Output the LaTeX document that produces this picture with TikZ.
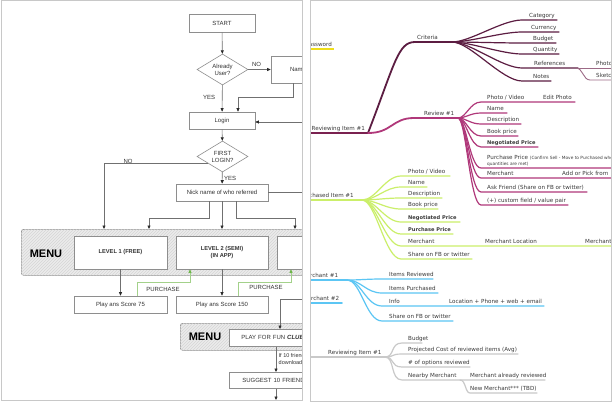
\documentclass[tikz,border=0pt]{standalone}
\usepackage{fontspec}
\setmainfont{Liberation Sans}
\newfontfamily\mmfont{DejaVu Sans}
\usetikzlibrary{arrows.meta,shapes.geometric,patterns,calc}
\definecolor{panelc}{HTML}{C8C8C8}
\definecolor{boxc}{HTML}{8E8E8E}
\definecolor{linec}{HTML}{707070}
\definecolor{tipc}{HTML}{2A2A2A}
\definecolor{txtc}{HTML}{333333}
\definecolor{hatchbg}{HTML}{EBEBEB}
\definecolor{hatchln}{HTML}{D6D6D6}
\definecolor{grn}{HTML}{A3D18A}
\definecolor{grntip}{HTML}{6DB54A}
\definecolor{ric}{HTML}{7A2150}
\definecolor{critc}{HTML}{5C1D42}
\definecolor{refc}{HTML}{9C6A86}
\definecolor{revc}{HTML}{B0387A}
\definecolor{purc}{HTML}{CBEF6A}
\definecolor{merc}{HTML}{5CC6F4}
\definecolor{grayb}{HTML}{C9C9C9}
\definecolor{pwc}{HTML}{EEDD1A}
\definecolor{mmtxt}{HTML}{3A3A3A}
\newcommand\mmbold{\bfseries\fontsize{5.1}{6}\selectfont}
\newcommand\mmchild[8]{%
  \draw[#1] (#2) .. controls +(\cA,0) and +(-\cB,0) .. (#3,#4) -- (#5,#4);
  \node[mm] (#6) at (#7,#4-2.2) {#8};}
\begin{document}
\begin{tikzpicture}[x=1pt,y=-1pt,
  fbox/.style={draw=boxc, fill=white, line width=0.6pt, inner sep=0pt, font=\fontsize{6}{7}\selectfont, text=txtc, align=center},
  dia/.style={fbox, shape=diamond, shape aspect=1.65, minimum width=51pt, minimum height=31pt},
  conn/.style={draw=linec, line width=0.6pt, -{Triangle[length=3.5pt,width=3pt,color=tipc]}},
  pline/.style={draw=linec, line width=0.6pt},
  gconn/.style={draw=grn, line width=0.8pt, -{Triangle[length=3.5pt,width=3pt,color=grntip]}},
  lbl/.style={font=\fontsize{6}{7}\selectfont, text=txtc, inner sep=0pt},
  lvl/.style={fbox, minimum width=92pt, minimum height=33pt, font=\bfseries\fontsize{5.7}{7.5}\selectfont},
  menucont/.style={draw=boxc, rounded corners=2.5pt, line width=0.6pt, fill=hatchbg, postaction={pattern=north east lines, pattern color=hatchln}},
  menutxt/.style={font=\fontsize{11}{12}\selectfont\bfseries, text=black, inner sep=0pt},
  mm/.style={font=\mmfont\fontsize{5.6}{6.5}\selectfont, text=mmtxt, inner sep=0pt, anchor=base west},
  mmline/.style={line width=1.2pt, line cap=round},
  trunk/.style={line width=1.8pt, line cap=round},
]
\useasboundingbox (0,0) rectangle (612,402);
\fill[white] (0,0) rectangle (612,402);

% ---------------- left panel: flowchart ----------------
\begin{scope}
\clip (1,1) rectangle (302,400);
\node[menucont, anchor=north west, minimum width=320pt, minimum height=46pt] (menu1) at (21,229) {};
\node[menutxt] (menu1t) at (46,253.5) {MENU};
\node[lvl, minimum width=93pt] (L1) at (120.5,252.5) {LEVEL 1 (FREE)};
\node[lvl] (L2) at (222,252.5) {LEVEL 2 (SEMI)\\(IN APP)};
\node[lvl] (L3) at (323,252.5) {};
\node[menucont, anchor=north west, minimum width=160pt, minimum height=27pt] (menu2) at (180,323) {};
\node[menutxt] (menu2t) at (205,337) {MENU};

\node[fbox, minimum width=66pt, minimum height=18pt] (start) at (222,23) {START};
\node[dia] (d1) at (222.5,69.5) {Already\\User?};
\node[fbox, minimum width=54pt, minimum height=27pt] (name) at (298,69.5) {\raisebox{-3pt}{Name}};
\node[fbox, minimum width=66pt, minimum height=17pt] (login) at (222,120.5) {Login};
\node[dia] (d2) at (222.5,156.5) {FIRST\\LOGIN?};
\node[fbox, minimum width=92pt, minimum height=17pt] (nick) at (222,192.5) {Nick name of who referred};
\node[fbox, minimum width=93pt, minimum height=17pt] (p75) at (120.5,304.5) {Play ans Score 75};
\node[fbox, minimum width=92pt, minimum height=17pt] (p150) at (222,304.5) {Play ans Score 150};
\node[fbox, anchor=north west, minimum height=17pt, text width=90pt, inner xsep=12pt, align=left] (play) at (229,329) {PLAY FOR FUN \textbf{\textit{CLUB}}};
\node[fbox, anchor=north west, minimum height=16pt, text width=90pt, inner xsep=13pt, align=left] (suggest) at (229,372) {SUGGEST 10 FRIENDS};

\draw[conn] (start) -- (d1);
\draw[conn] (d1) -- (name);
\node[lbl] (no1) at (256.5,64) {NO};
\draw[conn] (d1) -- (login);
\node[lbl] (yes1) at (209,97) {YES};
\draw[conn] ([xshift=-5pt]name.south) -- ++(0,14) -| ([xshift=16pt]login.north);
\coordinate (lin) at (306,122);
\draw[conn] (lin) -- (lin -| login.east);
\draw[conn] (login) -- (d2);
\draw[conn] ($(d2.west)!0.42!(d2.south)$) -| ([xshift=83pt]menu1.north west);
\node[lbl] (no2) at (128,161) {NO};
\draw[conn] (d2) -- (nick);
\node[lbl] (yes2) at (230,178) {YES};
\coordinate (nout) at (306,192.5);
\draw[pline] (nick.east) -- (nout);
\draw[conn] ([xshift=-13pt]nick.south) -- ++(0,17) -| ([xshift=128pt]menu1.north west);
\draw[conn] (nick.south) -- (nick.south |- menu1.north);
\draw[conn] ([xshift=14pt]nick.south) -- ++(0,17) -| ([xshift=274pt]menu1.north west);
\draw[conn] (L1) -- (p75);
\draw[conn] (L2) -- (p150);
\draw[gconn] ([xshift=16.5pt]p75.north) -- ++(0,-13) -| ([xshift=-32pt]L2.south);
\node[lbl] (pu1) at (163,289) {PURCHASE};
\draw[gconn] ([xshift=16pt]p150.north) -- ++(0,-13) -| ([xshift=-32pt]L3.south);
\node[lbl] (pu2) at (266,287) {PURCHASE};
\coordinate (pin) at (306,299);
\draw[conn] (pin) -| ([xshift=51pt]play.north west);
\draw[conn] ([xshift=47pt]play.south west) -- ([xshift=47pt]suggest.north west);
\node[lbl, align=left, anchor=west, font=\fontsize{5.5}{7}\selectfont] (if10) at (278.5,359.5) {If 10 friends\\download};
\coordinate (sout) at (276,400);
\draw[conn] ([xshift=47pt]suggest.south west) -- (sout);
\end{scope}

% ---------------- right panel: mind map ----------------
\coordinate (jri) at (368,133);
\coordinate (jc) at (452,42);
\coordinate (jr) at (458,118);
\coordinate (jp) at (362,200);
\coordinate (jm) at (347,280);
\coordinate (jg) at (385,357);
\begin{scope}
\clip (311,1) rectangle (611,401);
% password
\node[mm] (pw) at (305.5,46.8) {Password};
\draw[pwc, line width=1.5pt] (300,49) -- (334,49);

% reviewing item (top)
\node[mm] (ri) at (311.5,130.8) {Reviewing Item \#1};
\draw[ric, trunk] (300,133) -- (jri);

% criteria
\draw[critc, trunk] (jri) .. controls +(27,-70) and +(-17,0) .. (415,42) -- (jc);
\node[mm] (crit) at (417,39.8) {Criteria};
\def\cA{18}\def\cB{20}
\mmchild{critc,mmline}{jc}{522}{20}{557}{cat}{529}{Category}
\mmchild{critc,mmline}{jc}{522}{32}{559}{cur}{531}{Currency}
\mmchild{critc,mmline}{jc}{522}{43}{556}{bud}{533}{Budget}
\mmchild{critc,mmline}{jc}{522}{54}{559}{qty}{533}{Quantity}
\mmchild{critc,mmline}{jc}{522}{68}{578}{refs}{534}{References}
\mmchild{critc,mmline}{jc}{522}{81}{551}{notes}{533}{Notes}
\draw[refc, line width=0.9pt] (578,68) -- (615,68);
\draw[refc, line width=0.9pt] (576,68) .. controls +(7,0) and +(-7,0) .. (590,80) -- (615,80);
\node[mm] (rph) at (596,65.8) {Photo};
\node[mm] (rsk) at (596,77.8) {Sketch};

% review
\draw[revc, trunk] (jri) .. controls +(24,0) and +(-22,0) .. (414,118) -- (jr);
\node[mm] (rev) at (424,115.8) {Review \#1};
\def\cA{8}\def\cB{11}
\mmchild{revc,mmline}{jr}{481}{102}{575}{rpv}{487}{Photo / Video}
\node[mm] (redit) at (543,99.8) {Edit Photo};
\mmchild{revc,mmline}{jr}{481}{113}{507}{rname}{487}{Name}
\mmchild{revc,mmline}{jr}{481}{124}{521}{rdesc}{487}{Description}
\mmchild{revc,mmline}{jr}{481}{136}{518}{rbook}{487}{Book price}
\mmchild{revc,mmline}{jr}{481}{147}{538}{rneg}{487}{\mmbold Negotiated Price}
\draw[revc,mmline] (jr) .. controls +(\cA,0) and +(-\cB,0) .. (481,168) -- (615,168);
\node[mm] (rpp) at (487,159.5) {Purchase Price {\fontsize{4.3}{5}\selectfont (Confirm Sell - Move to Purchased when}};
\node[mm, font=\mmfont\fontsize{4.3}{5}\selectfont] (rpp2) at (487,165.6) {quantities are met)};
\mmchild{revc,mmline}{jr}{481}{178}{615}{rmer}{487}{Merchant}
\node[mm] (radd) at (562,175.8) {Add or Pick from};
\mmchild{revc,mmline}{jr}{481}{192}{587}{rask}{487}{Ask Friend (Share on FB or twitter)}
\mmchild{revc,mmline}{jr}{481}{205}{568}{rcus}{487}{(+) custom field / value pair}

% purchased
\node[mm] (pi) at (300,197.8) {Purchased Item \#1};
\draw[purc, trunk] (300,200) -- (jp);
\def\cA{14}\def\cB{16}
\mmchild{purc,mmline}{jp}{401}{176}{450}{ppv}{408}{Photo / Video}
\mmchild{purc,mmline}{jp}{401}{187}{427}{pname}{408}{Name}
\mmchild{purc,mmline}{jp}{401}{198}{442}{pdesc}{408}{Description}
\mmchild{purc,mmline}{jp}{401}{209}{438}{pbook}{408}{Book price}
\mmchild{purc,mmline}{jp}{401}{222}{460}{pneg}{408}{\mmbold Negotiated Price}
\mmchild{purc,mmline}{jp}{401}{234}{453}{ppp}{408}{\mmbold Purchase Price}
\mmchild{purc,mmline}{jp}{401}{246}{615}{pmer}{408}{Merchant}
\node[mm] (ploc) at (485,243.8) {Merchant Location};
\node[mm] (pmer2) at (585,243.8) {Merchant};
\mmchild{purc,mmline}{jp}{401}{259}{472}{pshare}{408}{Share on FB or twitter}

% merchants
\node[mm] (m1) at (301.6,277.8) {Merchant \#1};
\draw[merc, trunk] (300,280) -- (jm);
\def\cA{14}\def\cB{16}
\mmchild{merc,mmline}{jm}{382}{279}{433}{mrev}{389}{Items Reviewed}
\mmchild{merc,mmline}{jm}{382}{293}{438}{mpur}{389}{Items Purchased}
\mmchild{merc,mmline}{jm}{382}{306}{544}{minfo}{389}{Info}
\node[mm] (mloc) at (449,303.8) {Location + Phone + web + email};
\mmchild{merc,mmline}{jm}{382}{321}{453}{mshare}{389}{Share on FB or twitter}
\node[mm] (m2) at (302.6,300.8) {Merchant \#2};
\draw[merc, trunk] (300,303) -- (342,303);

% reviewing item (gray)
\node[mm] (rig) at (328,354.8) {Reviewing Item \#1};
\draw[grayb, trunk] (300,357) -- (jg);
\def\cA{10}\def\cB{12}
\mmchild{grayb,mmline}{jg}{402}{343}{422}{gbud}{408}{Budget}
\mmchild{grayb,mmline}{jg}{402}{354}{518}{gproj}{408}{Projected Cost of reviewed items (Avg)}
\mmchild{grayb,mmline}{jg}{402}{367}{470}{gopt}{408}{\# of options reviewed}
\mmchild{grayb,mmline}{jg}{402}{380}{545}{gnear}{408}{Nearby Merchant}
\node[mm] (galr) at (470,377.8) {Merchant already reviewed};
\draw[grayb,mmline] (460,380) .. controls +(6,0) and +(-5,0) .. (470,393) -- (537,393);
\node[mm] (gnew) at (470,390.8) {New Merchant*** (TBD)};
\end{scope}

% panel frames
\draw[panelc, line width=1pt] (1,0.5) rectangle (302,400.5);
\draw[panelc, line width=1pt] (310.5,0.5) rectangle (611.5,401.5);
\end{tikzpicture}
\end{document}
